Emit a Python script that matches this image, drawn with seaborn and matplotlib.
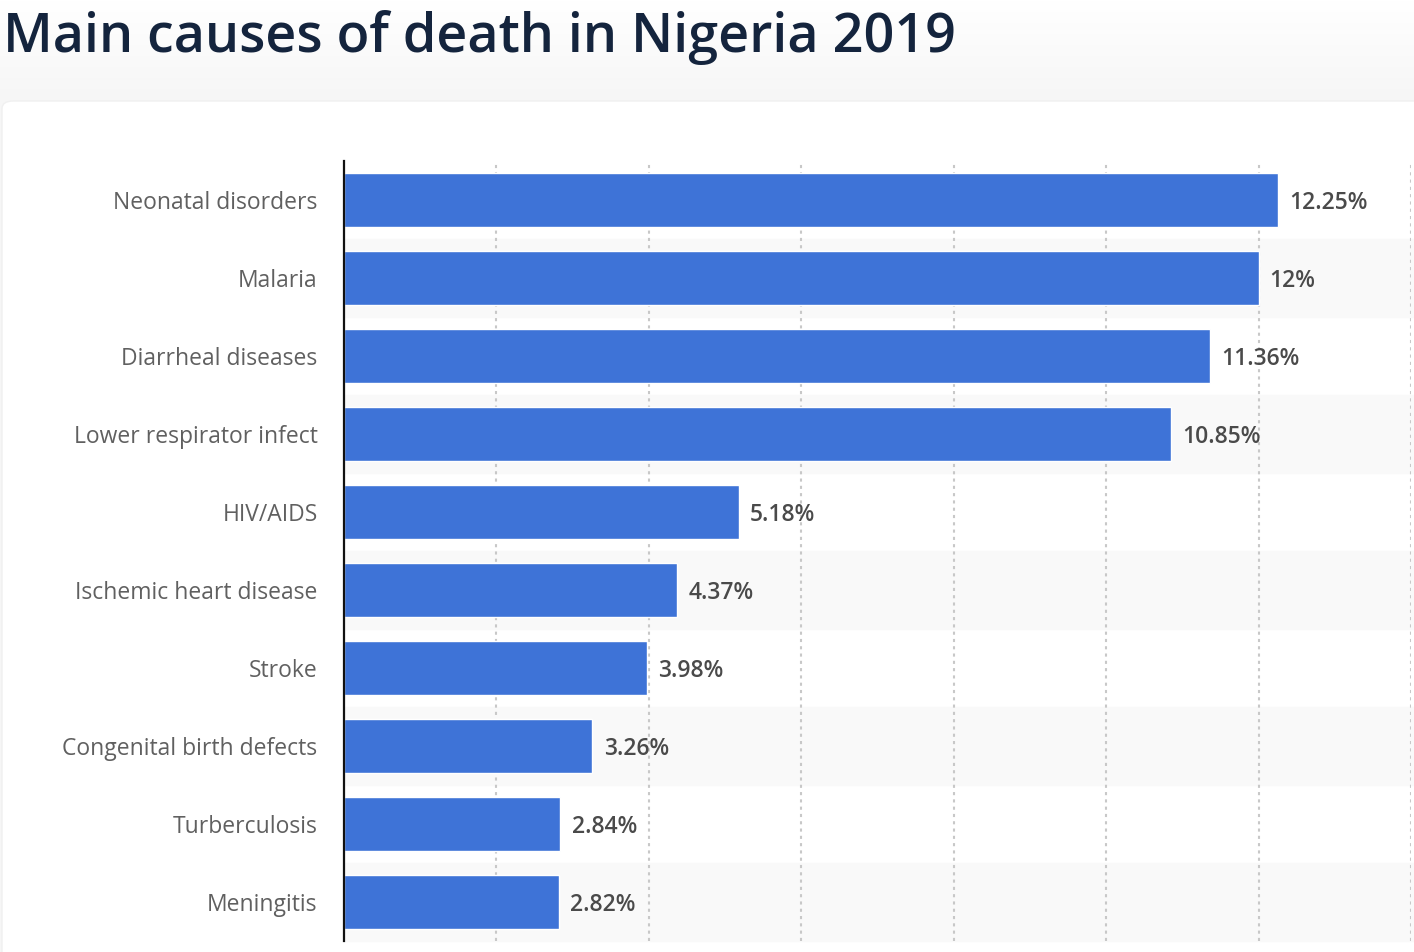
import numpy as np
import pandas as pd
import seaborn as sns
import matplotlib.pyplot as plt
from matplotlib.patches import FancyBboxPatch

causes = ["Neonatal disorders", "Malaria", "Diarrheal diseases", "Lower respirator infect",
          "HIV/AIDS", "Ischemic heart disease", "Stroke", "Congenital birth defects",
          "Turberculosis", "Meningitis"]
shares = [12.25, 12, 11.36, 10.85, 5.18, 4.37, 3.98, 3.26, 2.84, 2.82]

df = pd.DataFrame({"cause": causes, "share": shares})

sns.set_style("white")
plt.rcParams['font.family'] = ['Open Sans', 'DejaVu Sans']

W, H = 1414, 952
fig = plt.figure(figsize=(W / 100, H / 100), dpi=100)

# page background: light fade above the card
bg = fig.add_axes([0, 0, 1, 1], zorder=-10)
grad = np.ones((H, 1, 3))
top = np.linspace(1.0, 0.965, 100)
grad[:100, 0, :] = top[:, None]
grad[100:, 0, :] = 0.965
bg.imshow(grad, aspect='auto', extent=[0, 1, 0, 1])
bg.axis('off')
card = FancyBboxPatch((2 / W, -0.05), 1.05, (H - 101) / H + 0.05,
                      boxstyle="round,pad=0,rounding_size=0.008",
                      transform=fig.transFigure, facecolor='white',
                      edgecolor='#f0f0f0', linewidth=1)
bg.add_artist(card)

fig.text(3 / W, (H - 52) / H, "Main causes of death in Nigeria 2019",
         fontsize=38.8, fontweight='semibold', color='#14243d', ha='left', va='baseline')

ax = fig.add_axes([344 / W, 11 / H, (1411 - 344) / W, 780 / H])
ax.set_facecolor('none')

for i in range(1, len(causes), 2):
    ax.axhspan(i - 0.5, i + 0.5, xmin=0, xmax=1.01, color='#f9f9f9', zorder=0.1, clip_on=False)

sns.barplot(data=df, x="share", y="cause", color='#3e73d7', width=0.69,
            saturation=1, ax=ax, zorder=2)

ax.set_xlim(0, 14)
ax.set_ylim(9.5, -0.5)
ax.set_xticks(np.arange(2, 15, 2))
ax.set_axisbelow(True)
ax.grid(axis='x', color='#c8c8c8', linewidth=1.5, linestyle=(0, (1.5, 2)), zorder=0.5)
ax.grid(axis='y', visible=False)
ax.tick_params(axis='x', length=0, labelbottom=False)
ax.tick_params(axis='y', length=0, pad=19, labelsize=16.5, labelcolor='#606060')
ax.set_xlabel("")
ax.set_ylabel("")
for s in ['top', 'right', 'bottom']:
    ax.spines[s].set_visible(False)
ax.spines['left'].set_color('#111111')
ax.spines['left'].set_linewidth(1.6)
ax.spines['left'].set_zorder(5)

labels = ax.bar_label(ax.containers[0], labels=[f"{v:g}%" for v in shares], padding=8,
                      fontsize=16.5, fontweight='semibold', color='#4a4a4a')
for t in labels:
    t.set_va('center_baseline')

fig.savefig("out.png", dpi=100)
